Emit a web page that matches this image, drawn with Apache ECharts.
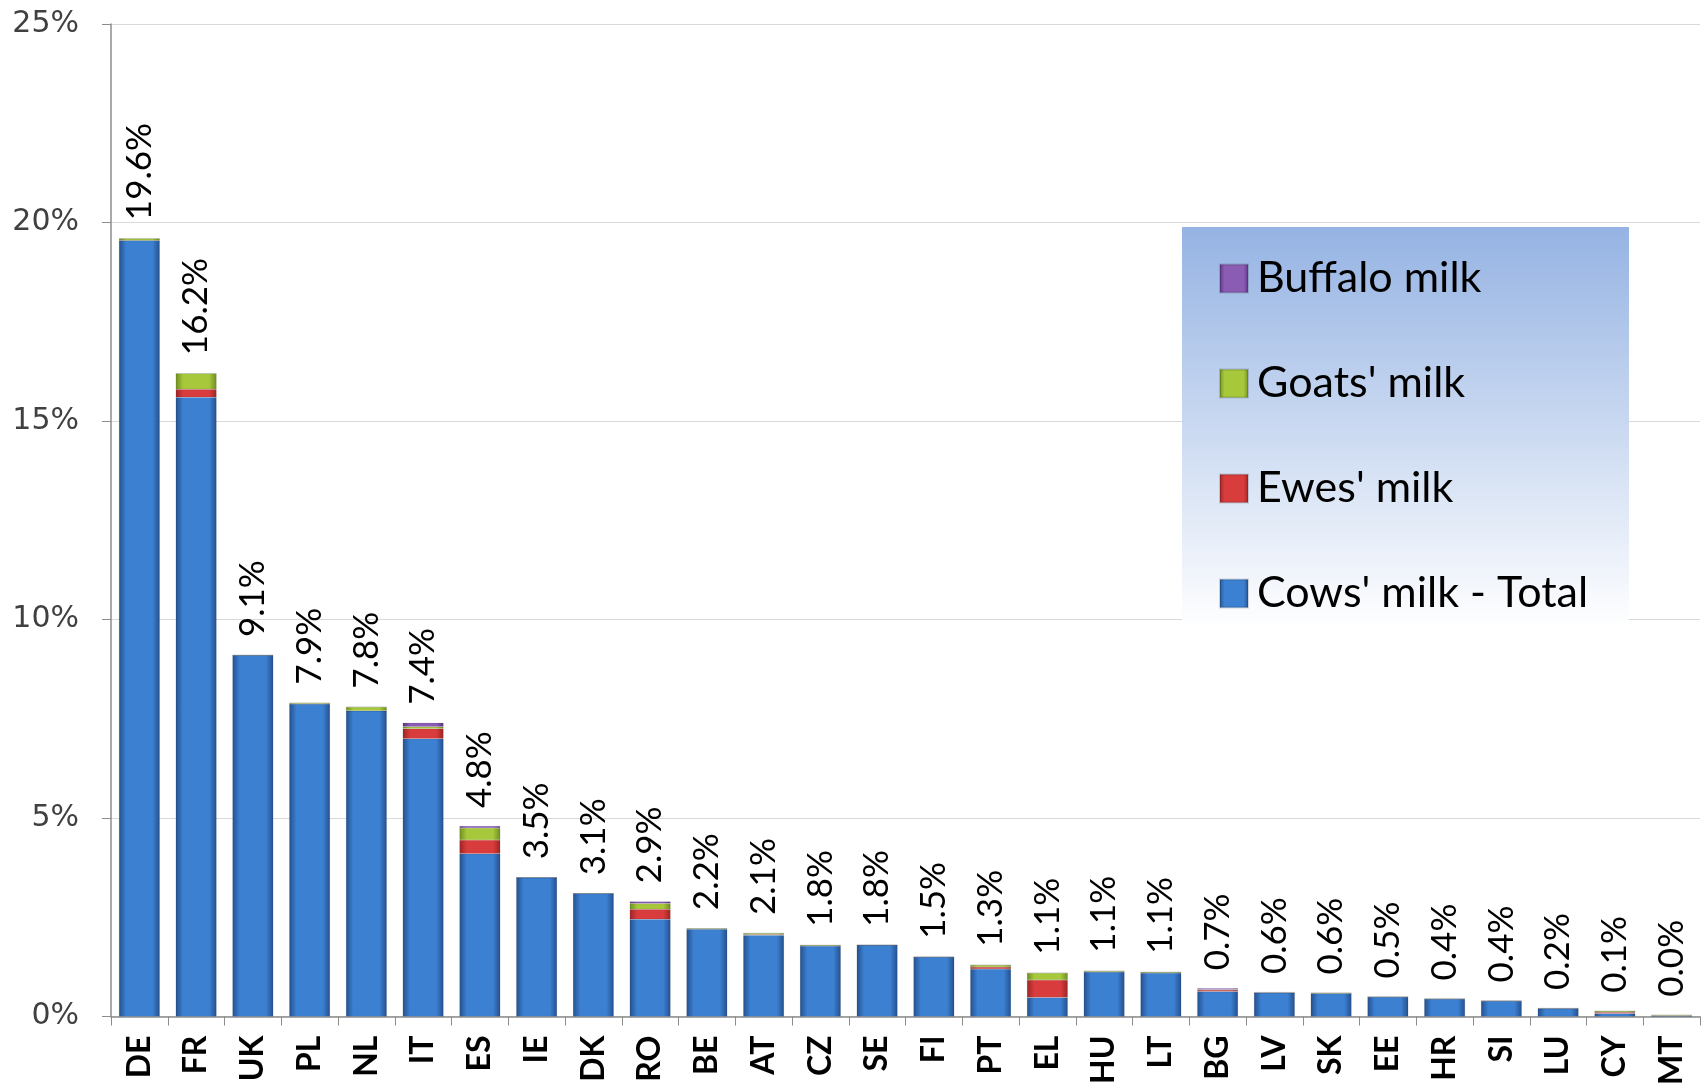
<!DOCTYPE html>
<html>
<head>
<meta charset="utf-8">
<script src="https://cdn.jsdelivr.net/npm/echarts@6/dist/echarts.min.js"></script>
<style>
    html, body { margin: 0; padding: 0; background: #fff; }
    #chart { width: 1703px; height: 1088px; }
</style>
</head>
<body>
<div id="chart"></div>
<script>
// countries, sorted by share of EU milk collection
const countries = ['DE', 'FR', 'UK', 'PL', 'NL', 'IT', 'ES', 'IE', 'DK', 'RO', 'BE', 'AT', 'CZ', 'SE',
    'FI', 'PT', 'EL', 'HU', 'LT', 'BG', 'LV', 'SK', 'EE', 'HR', 'SI', 'LU', 'CY', 'MT'];

// share of each milk type (%)
const cowsMilk    = [19.55, 15.6, 9.1, 7.87, 7.7, 7.0, 4.1, 3.5, 3.1, 2.45, 2.2, 2.05, 1.78, 1.8,
    1.5, 1.2, 0.48, 1.12, 1.1, 0.63, 0.6, 0.58, 0.49, 0.44, 0.39, 0.2, 0.08, 0.02];
const ewesMilk    = [0, 0.2, 0, 0, 0, 0.25, 0.35, 0, 0, 0.25, 0, 0.02, 0, 0,
    0, 0.05, 0.44, 0, 0, 0.04, 0, 0, 0, 0, 0, 0, 0.03, 0];
const goatsMilk   = [0.05, 0.4, 0, 0.03, 0.1, 0.05, 0.3, 0, 0, 0.15, 0.02, 0.03, 0.02, 0,
    0, 0.05, 0.18, 0.03, 0.02, 0.01, 0.01, 0.02, 0.01, 0.01, 0.01, 0.01, 0.03, 0.02];
const buffaloMilk = [0, 0, 0, 0, 0, 0.1, 0.05, 0, 0, 0.05, 0, 0, 0, 0,
    0, 0, 0, 0, 0, 0.03, 0, 0, 0, 0, 0, 0, 0, 0];

// totals shown above each bar
const totals = [19.6, 16.2, 9.1, 7.9, 7.8, 7.4, 4.8, 3.5, 3.1, 2.9, 2.2, 2.1, 1.8, 1.8,
    1.5, 1.3, 1.1, 1.1, 1.1, 0.7, 0.6, 0.6, 0.5, 0.4, 0.4, 0.2, 0.1, 0.0];

const yTicks = [0, 5, 10, 15, 20, 25];

const barFill = (edge, mid) => ({
    type: 'linear', x: 0, y: 0, x2: 1, y2: 0,
    colorStops: [
        { offset: 0, color: edge },
        { offset: 0.18, color: mid },
        { offset: 0.82, color: mid },
        { offset: 1, color: edge }
    ]
});

const textFont = 'Lato';

const makeSeries = (name, data, edge, mid, withLabel) => ({
    name: name,
    type: 'bar',
    stack: 'milk',
    data: data,
    barCategoryGap: '28%',
    itemStyle: { color: barFill(edge, mid), borderColor: 'rgba(0,0,0,0.15)', borderWidth: 0.5 },
    label: withLabel ? {
        show: true,
        position: 'top',
        rotate: 90,
        align: 'left',
        verticalAlign: 'middle',
        distance: 18,
        fontFamily: textFont,
        fontSize: 35,
        color: '#000',
        formatter: p => totals[p.dataIndex].toFixed(1) + '%'
    } : { show: false }
});

const chart = echarts.init(document.getElementById('chart'));
chart.setOption({
    animation: false,
    grid: { left: 111, right: 3, top: 24, bottom: 71 },
    graphic: [{
        type: 'rect',
        z: 5,
        shape: { x: 1182, y: 227, width: 447, height: 401 },
        style: {
            fill: {
                type: 'linear', x: 0, y: 0, x2: 0, y2: 1,
                colorStops: [
                    { offset: 0, color: '#95b3e3' },
                    { offset: 1, color: '#ffffff' }
                ]
            }
        }
    }],
    legend: {
        z: 10,
        orient: 'vertical',
        left: 1219,
        top: 257,
        padding: 0,
        icon: 'rect',
        itemWidth: 28,
        itemHeight: 28,
        itemGap: 62,
        data: ['Buffalo milk', "Goats' milk", "Ewes' milk", "Cows' milk - Total"],
        textStyle: { fontFamily: textFont, fontSize: 43, color: '#000', padding: [0, 0, 0, 4] }
    },
    xAxis: {
        type: 'category',
        data: countries,
        axisLine: { lineStyle: { color: '#8c8c8c', width: 1.5 } },
        axisTick: { show: true, length: 9, lineStyle: { color: '#8c8c8c' } },
        axisLabel: {
            interval: 0,
            rotate: 90,
            margin: 19,
            fontFamily: textFont,
            fontWeight: 'bold',
            fontSize: 32,
            color: '#000'
        }
    },
    yAxis: {
        type: 'value',
        min: yTicks[0],
        max: yTicks[yTicks.length - 1],
        interval: 5,
        axisLine: { show: true, lineStyle: { color: '#8c8c8c', width: 1.5 } },
        axisTick: { show: true, length: 9, lineStyle: { color: '#8c8c8c' } },
        splitLine: { lineStyle: { color: '#d9d9d9', width: 1.2 } },
        axisLabel: {
            margin: 32,
            fontFamily: 'DejaVu Sans',
            fontSize: 30,
            color: '#404040',
            formatter: '{value}%'
        }
    },
    series: [
        makeSeries("Cows' milk - Total", cowsMilk, '#24508c', '#3c80d2', false),
        makeSeries("Ewes' milk", ewesMilk, '#9c2424', '#d83c3c', false),
        makeSeries("Goats' milk", goatsMilk, '#6e8c22', '#a6c83a', false),
        makeSeries('Buffalo milk', buffaloMilk, '#5a3480', '#8a5cb4', true)
    ]
});
</script>
</body>
</html>
